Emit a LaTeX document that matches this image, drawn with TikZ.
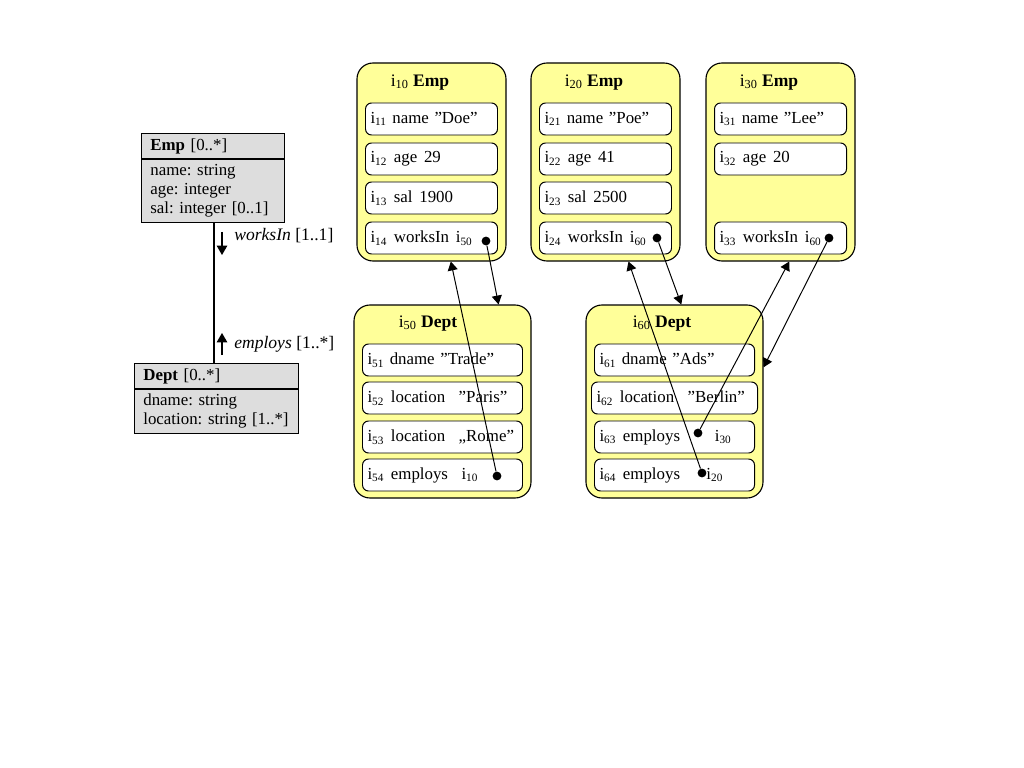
\documentclass[tikz,border=0pt]{standalone}
\usepackage{fontspec}
\setmainfont{Liberation Serif}
\usetikzlibrary{arrows,shapes.multipart}
\definecolor{objyellow}{HTML}{FFFF99}
\definecolor{classgray}{HTML}{DDDDDD}
\newcommand{\ix}[1]{i\textsubscript{#1}}
\newcommand{\gap}{\ \kern0.8pt}
\frenchspacing
\tikzset{
  umlclass/.style={draw, fill=classgray, rectangle split, rectangle split parts=2,
    anchor=north west, align=left, inner xsep=0.22cm, inner ysep=3.2pt,
    font=\fontsize{12}{13.6}\selectfont, line width=0.8pt},
  object/.style={draw, fill=objyellow, rounded corners=0.4cm, line width=0.8pt},
  slot/.style={draw, fill=white, rounded corners=0.15cm, minimum height=0.8cm,
    inner xsep=0.125cm, align=left, font=\fontsize{12}{14}\selectfont, line width=0.7pt},
  eslot/.style={slot, text width=3.05cm},
  dslot/.style={slot, text width=3.75cm},
  title/.style={font=\fontsize{12.5}{14}\selectfont},
  role/.style={anchor=west, inner sep=0pt, font=\fontsize{12.5}{14}\selectfont},
  dot/.style={circle, fill, inner sep=0pt, minimum size=0.22cm},
  ref/.style={->, line width=0.7pt}
}

\begin{document}
\begin{tikzpicture}[>=triangle 60]
  \useasboundingbox (0,0) rectangle (25.6,-19.2);
  % class diagram
  \node[umlclass, text width=3.135cm] (emp) at (3.525,-3.325)
    {\textbf{Emp} [0..*] \nodepart{second} name: string\\ age: integer\\ sal: integer [0..1]};
  \node[umlclass, text width=3.66cm] (dept) at (3.35,-9.075)
    {\textbf{Dept} [0..*] \nodepart{second} dname: string\\ location: string [1..*]};
  \coordinate (axis) at (5.35,0);
  \draw[line width=0.8pt] (emp.south -| axis) -- (dept.north -| axis);
  \node[role] (worksin) at (5.85,-5.9) {\textit{worksIn} [1..1]};
  \node[role] (employs) at (5.85,-8.6) {\textit{employs} [1..*]};
  \draw[ref, line width=0.8pt] ([xshift=-0.3cm,yshift=0.1cm]worksin.west) -- ++(0,-0.575);
  \draw[ref, line width=0.8pt] ([xshift=-0.3cm,yshift=-0.275cm]employs.west) -- ++(0,0.55);

  % objects
  \node[object, minimum width=3.725cm, minimum height=4.95cm] (o10) at (10.7875,-4.05) {};
  \node[object, minimum width=3.725cm, minimum height=4.95cm] (o20) at (15.1375,-4.05) {};
  \node[object, minimum width=3.725cm, minimum height=4.95cm] (o30) at (19.5125,-4.05) {};
  \node[object, minimum width=4.425cm, minimum height=4.825cm] (o50) at (11.0625,-10.0375) {};
  \node[object, minimum width=4.425cm, minimum height=4.825cm] (o60) at (16.8625,-10.0375) {};

  \node[title] (t10) at (10.5,-2.06) {\ix{10} \textbf{Emp}};
  \node[title] (t20) at (14.85,-2.06) {\ix{20} \textbf{Emp}};
  \node[title] (t30) at (19.225,-2.06) {\ix{30} \textbf{Emp}};
  \node[title] (t50) at (10.7,-8.08) {\ix{50} \textbf{Dept}};
  \node[title] (t60) at (16.55,-8.08) {\ix{60} \textbf{Dept}};

  % slots of the employees
  \node[eslot] (s11) at (10.7875,-2.975) {\ix{11} name ”Doe”};
  \node[eslot] (s12) at (10.7875,-3.975) {\ix{12}\gap age\gap 29};
  \node[eslot] (s13) at (10.7875,-4.95) {\ix{13}\gap sal\gap 1900};
  \node[eslot] (s14) at (10.7875,-5.95) {\ix{14}\gap worksIn\gap \ix{50}};
  \node[eslot] (s21) at (15.1375,-2.975) {\ix{21} name ”Poe”};
  \node[eslot] (s22) at (15.1375,-3.975) {\ix{22}\gap age\gap 41};
  \node[eslot] (s23) at (15.1375,-4.95) {\ix{23}\gap sal\gap 2500};
  \node[eslot] (s24) at (15.1375,-5.95) {\ix{24}\gap worksIn\gap \ix{60}};
  \node[eslot] (s31) at (19.5125,-2.975) {\ix{31} name ”Lee”};
  \node[eslot] (s32) at (19.5125,-3.975) {\ix{32}\gap age\gap 20};
  \node[eslot] (s33) at (19.5125,-5.95) {\ix{33}\gap worksIn\gap \ix{60}};

  % slots of the departments
  \node[dslot] (s51) at (11.0625,-9.0) {\ix{51} dname ”Trade”};
  \node[dslot] (s52) at (11.0625,-9.95) {\ix{52}\gap location\gap\gap ”Paris”};
  \node[dslot] (s53) at (11.0625,-10.925) {\ix{53}\gap location\gap\gap „Rome”};
  \node[dslot] (s54) at (11.0625,-11.875) {\ix{54}\gap employs\gap\gap \ix{10}};
  \node[dslot] (s61) at (16.8625,-9.0) {\ix{61} dname ”Ads”};
  \node[dslot, text width=3.9cm] (s62) at (16.8625,-9.95) {\ix{62}\gap location\gap\gap ”Berlin”};
  \node[dslot] (s63) at (16.8625,-10.925) {\ix{63}\gap employs\hspace{0.87cm}\ix{30}};
  \node[dslot] (s64) at (16.8625,-11.875) {\ix{64}\gap employs\hspace{0.66cm}\ix{20}};

  % references
  \node[dot] (d14) at (12.15,-6.025) {};
  \node[dot] (d24) at (16.425,-5.95) {};
  \node[dot] (d33) at (20.725,-5.95) {};
  \node[dot] (d54) at (12.425,-11.9) {};
  \node[dot] (d63) at (17.45,-10.825) {};
  \node[dot] (d64) at (17.55,-11.825) {};
  \draw[ref] (d14) -- (o50.60);
  \draw[ref] (d54) -- (o10.-79);
  \draw[ref] (d24) -- (o60.86);
  \draw[ref] (d64) -- (o20.-77);
  \draw[ref] (d63) -- (o30.-85);
  \draw[ref] (d33) -- (o60.21);
\end{tikzpicture}
\end{document}
